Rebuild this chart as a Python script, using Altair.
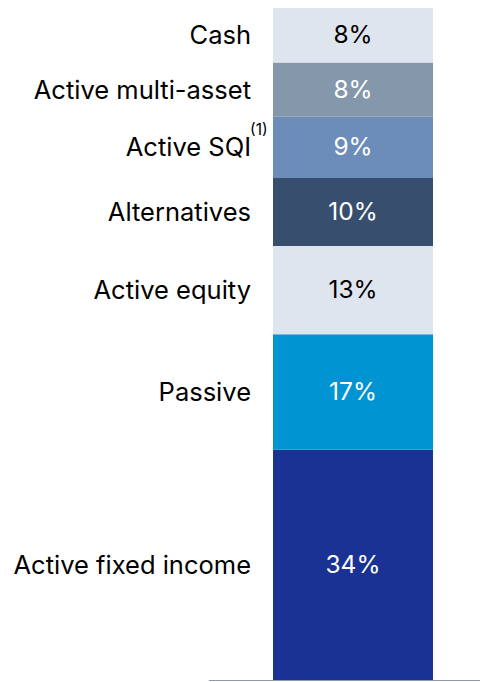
import altair as alt
import pandas as pd

categories = ["Active fixed income", "Passive", "Active equity", "Alternatives",
              "Active SQI", "Active multi-asset", "Cash"]
values = [34, 17, 13, 10, 9, 8, 8]
pct_labels = ["34%", "17%", "13%", "10%", "9%", "8%", "8%"]
colors = ["#1a3293", "#0094d2", "#dfe5ef", "#384e6e", "#6c8cba", "#8497ab", "#dfe5ef"]
footnote_category = "Active SQI"
footnote_mark = "(1)"

df = pd.DataFrame({
    "category": categories,
    "value": values,
    "label": pct_labels,
    "order": list(range(len(categories))),
})

FONT = "Inter"
W, H = 472, 673
total = sum(values)

base = alt.Chart(df).transform_stack(
    stack="value", as_=["y0", "y1"], groupby=[], sort=[{"field": "order", "order": "ascending"}]
).transform_calculate(mid="(datum.y0 + datum.y1) / 2")

yscale = alt.Scale(domain=[0, total], nice=False, zero=True)

bars = base.mark_bar(size=160).encode(
    x=alt.value(265), x2=alt.value(425),
    y=alt.Y("y0:Q", scale=yscale, axis=None),
    y2="y1:Q",
    color=alt.Color("category:N", scale=alt.Scale(domain=categories, range=colors), legend=None),
)

pct = base.mark_text(font=FONT, fontSize=24.5, baseline="middle", align="center", dy=1).encode(
    x=alt.value(345),
    y=alt.Y("mid:Q", scale=yscale, axis=None),
    text="label:N",
    color=alt.condition(
        "datum.category == 'Cash' || datum.category == 'Active equity'",
        alt.value("#000000"), alt.value("#ffffff")),
)

names = base.mark_text(font=FONT, fontSize=25.5, baseline="middle", align="right",
                       dy=1, color="#000000").encode(
    x=alt.value(243),
    y=alt.Y("mid:Q", scale=yscale, axis=None),
    text="category:N",
)

foot = base.transform_filter(alt.datum.category == footnote_category).transform_calculate(
    fn=f"'{footnote_mark}'"
).mark_text(font=FONT, fontSize=15.5, baseline="middle", align="left", dy=-17,
            color="#000000").encode(
    x=alt.value(242),
    y=alt.Y("mid:Q", scale=yscale, axis=None),
    text="fn:N",
)

rule = alt.Chart(df).mark_rule(color="#8a9bb0", strokeWidth=1.5).encode(
    y=alt.datum(0, scale=yscale),
    x=alt.value(201), x2=alt.value(W),
)

chart = alt.layer(bars, pct, names, foot, rule).properties(
    width=W, height=H, padding=0, autosize=alt.AutoSizeParams(type="none")
).configure_view(stroke=None)

chart.save("out.html", embed_options={"renderer": "svg", "actions": False})
